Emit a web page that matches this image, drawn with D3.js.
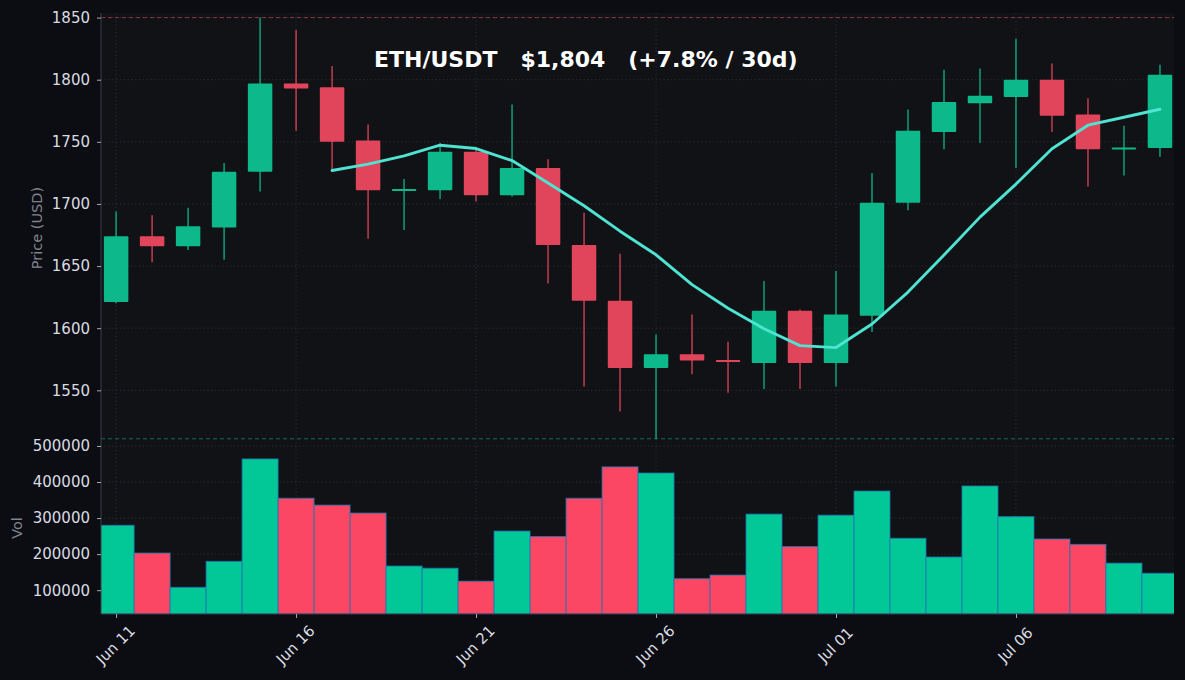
<!DOCTYPE html>
<html>
<head>
<meta charset="utf-8">
<script src="https://cdn.jsdelivr.net/npm/d3@7"></script>
<style>
  html, body { margin: 0; padding: 0; background: #0b0d13; }
  svg { display: block; font-family: "DejaVu Sans", sans-serif; }
</style>
</head>
<body>
<div id="chart"></div>
<script>
// daily candles, Jun 11 - Jul 10
var dates = ["2023-06-11","2023-06-12","2023-06-13","2023-06-14","2023-06-15","2023-06-16","2023-06-17","2023-06-18","2023-06-19","2023-06-20",
             "2023-06-21","2023-06-22","2023-06-23","2023-06-24","2023-06-25","2023-06-26","2023-06-27","2023-06-28","2023-06-29","2023-06-30",
             "2023-07-01","2023-07-02","2023-07-03","2023-07-04","2023-07-05","2023-07-06","2023-07-07","2023-07-08","2023-07-09","2023-07-10"];
var opens  = [1621,1674,1666,1681,1726,1797,1794,1751,1711,1711, 1742,1707,1729,1667,1622,1568,1579,1574.5,1572,1614, 1572,1610,1701,1758,1781,1786,1800,1772,1745,1745];
var highs  = [1694,1691,1697,1733,1850,1840,1811,1764,1720,1749, 1745,1780,1736,1693,1660,1595,1611,1589,1638,1615, 1646,1725,1776,1808,1809,1833,1813,1785,1763,1812];
var lows   = [1620,1653,1663,1655,1710,1759,1727,1672,1679,1704, 1702,1706,1636,1553,1533,1511,1563,1548,1551,1551, 1553,1597,1695,1744,1749,1729,1758,1714,1723,1738];
var closes = [1674,1666,1682,1726,1797,1793,1750,1711,1712,1742, 1707,1729,1667,1622,1568,1579,1574,1573,1614,1572, 1611,1701,1759,1782,1787,1800,1771,1744,1745.5,1804];
var volumes = [280000,203000,108000,180000,464000,355000,336000,314000,167000,161000,
               125000,264000,249000,355000,442000,425000,132000,142000,311000,221000,
               308000,375000,244000,192000,389000,304000,242000,227000,175000,147000];
// 7 day moving average (starts on the 7th candle)
var ma7 = [null,null,null,null,null,null,1726.9,1732.1,1738.7,1747.3,
           1744.6,1734.9,1716.9,1698.6,1678.1,1659.1,1635.1,1616,1599.6,1586,
           1584.4,1603.4,1629.1,1658.9,1689.4,1716,1744.4,1763.4,1769.8,1776.2];

var priceTicks = [1550,1600,1650,1700,1750,1800,1850];
var volTicks = [100000,200000,300000,400000,500000];
var dateTicks = ["2023-06-11","2023-06-16","2023-06-21","2023-06-26","2023-07-01","2023-07-06"];
var titleText = "ETH/USDT   $1,804   (+7.8% / 30d)";

var W = 1185, H = 680;
var plotLeft = 101, plotRight = 1174, plotTop = 13, split = 442, plotBottom = 614;
var DAY = 864e5;

var up = "#0db98a", down = "#e0455b";
var volUp = "#02c797", volDown = "#fb4764";

var parse = d3.utcParse("%Y-%m-%d");
var days = dates.map(parse);
var candles = days.map(function(d, i) {
  return { date: d, o: opens[i], h: highs[i], l: lows[i], c: closes[i], v: volumes[i], ma: ma7[i] };
});

var x = d3.scaleUtc()
  .domain([new Date(+days[0] - 0.42 * DAY), new Date(+days[days.length - 1] + 0.39 * DAY)])
  .range([plotLeft, plotRight]);
var y = d3.scaleLinear().domain([1508.4, 1853.7]).range([split, plotTop]);
var yv = d3.scaleLinear().domain([34000, 511000]).range([plotBottom, split]);

var dayW = x(days[1]) - x(days[0]);
var bodyW = dayW * 0.68;

var svg = d3.select("#chart").append("svg")
  .attr("width", W).attr("height", H);

svg.append("rect").attr("width", W).attr("height", H).attr("fill", "#0b0d13");
svg.append("rect")
  .attr("x", plotLeft).attr("y", plotTop)
  .attr("width", plotRight - plotLeft).attr("height", plotBottom - plotTop)
  .attr("fill", "#111216");

svg.append("clipPath").attr("id", "plotClip")
  .append("rect").attr("x", plotLeft).attr("y", plotTop)
  .attr("width", plotRight - plotLeft).attr("height", plotBottom - plotTop);

var grid = svg.append("g")
  .attr("stroke", "#2e3139")
  .attr("stroke-width", 0.9)
  .attr("stroke-dasharray", "1.2,2.6");

grid.selectAll(".vg").data(dateTicks.map(parse)).enter().append("line")
  .attr("x1", function(d) { return x(d); }).attr("x2", function(d) { return x(d); })
  .attr("y1", plotTop).attr("y2", plotBottom);
grid.selectAll(".pg").data(priceTicks).enter().append("line")
  .attr("x1", plotLeft).attr("x2", plotRight)
  .attr("y1", function(d) { return y(d); }).attr("y2", function(d) { return y(d); });
grid.selectAll(".volg").data(volTicks).enter().append("line")
  .attr("x1", plotLeft).attr("x2", plotRight)
  .attr("y1", function(d) { return yv(d); }).attr("y2", function(d) { return yv(d); });

// max high / min low reference lines
svg.append("line")
  .attr("x1", plotLeft).attr("x2", plotRight)
  .attr("y1", y(d3.max(highs))).attr("y2", y(d3.max(highs)))
  .attr("stroke", down).attr("stroke-opacity", 0.6)
  .attr("stroke-width", 1).attr("stroke-dasharray", "4,3");
svg.append("line")
  .attr("x1", plotLeft).attr("x2", plotRight)
  .attr("y1", y(d3.min(lows))).attr("y2", y(d3.min(lows)))
  .attr("stroke", up).attr("stroke-opacity", 0.55)
  .attr("stroke-width", 1).attr("stroke-dasharray", "4,3");

// volume bars
svg.append("g").attr("clip-path", "url(#plotClip)")
  .selectAll("rect").data(candles).enter().append("rect")
  .attr("x", function(d) { return x(d.date) - dayW / 2; })
  .attr("width", dayW)
  .attr("y", function(d) { return yv(d.v); })
  .attr("height", function(d) { return plotBottom - yv(d.v); })
  .attr("fill", function(d) { return d.c >= d.o ? volUp : volDown; })
  .attr("stroke", "#1f77b4")
  .attr("stroke-opacity", 0.8)
  .attr("stroke-width", 1);

// candles
var cg = svg.append("g");
cg.selectAll(".wick").data(candles).enter().append("line")
  .attr("x1", function(d) { return x(d.date); }).attr("x2", function(d) { return x(d.date); })
  .attr("y1", function(d) { return y(d.h); }).attr("y2", function(d) { return y(d.l); })
  .attr("stroke", function(d) { return d.c >= d.o ? up : down; })
  .attr("stroke-width", 1.5)
  .attr("stroke-opacity", 0.85);
cg.selectAll(".body").data(candles).enter().append("rect")
  .attr("x", function(d) { return x(d.date) - bodyW / 2; })
  .attr("width", bodyW)
  .attr("y", function(d) { return y(Math.max(d.o, d.c)); })
  .attr("height", function(d) { return Math.max(2, Math.abs(y(d.o) - y(d.c))); })
  .attr("rx", 1)
  .attr("fill", function(d) { return d.c >= d.o ? up : down; });

// moving average
var line = d3.line()
  .defined(function(d) { return d.ma != null; })
  .x(function(d) { return x(d.date); })
  .y(function(d) { return y(d.ma); });
svg.append("path").datum(candles)
  .attr("d", line)
  .attr("fill", "none")
  .attr("stroke", "#4fe3d2")
  .attr("stroke-width", 2.9)
  .attr("stroke-linejoin", "round")
  .attr("stroke-linecap", "round");

// spines
svg.append("line").attr("x1", plotLeft).attr("x2", plotLeft).attr("y1", plotTop).attr("y2", plotBottom)
  .attr("stroke", "#3a3e48");
svg.append("line").attr("x1", plotLeft).attr("x2", plotRight).attr("y1", plotBottom).attr("y2", plotBottom)
  .attr("stroke", "#3a3e48");

// axes
function styleAxis(g) {
  g.select(".domain").remove();
  g.selectAll(".tick line").attr("stroke", "#a8acb4");
  g.selectAll(".tick text").attr("fill", "#d9dbe0").style("font-size", "15px")
    .style("font-family", "DejaVu Sans");
}

svg.append("g")
  .attr("transform", "translate(" + plotLeft + ",0)")
  .call(d3.axisLeft(y).tickValues(priceTicks).tickSize(4).tickPadding(7).tickFormat(d3.format("d")))
  .call(styleAxis);

svg.append("g")
  .attr("transform", "translate(" + plotLeft + ",0)")
  .call(d3.axisLeft(yv).tickValues(volTicks).tickSize(4).tickPadding(7).tickFormat(d3.format("d")))
  .call(styleAxis);

var xa = svg.append("g")
  .attr("transform", "translate(0," + plotBottom + ")")
  .call(d3.axisBottom(x).tickValues(dateTicks.map(parse)).tickSize(4).tickFormat(d3.utcFormat("%b %d")))
  .call(styleAxis);
xa.selectAll(".tick text")
  .attr("y", null).attr("dy", null)
  .attr("text-anchor", "middle")
  .attr("dominant-baseline", "central")
  .attr("transform", "translate(-1,31) rotate(-45)");

// axis labels
svg.append("text")
  .attr("transform", "translate(42,228) rotate(-90)")
  .attr("text-anchor", "middle")
  .attr("fill", "#80848d")
  .style("font-size", "14.5px")
  .text("Price (USD)");
svg.append("text")
  .attr("transform", "translate(22," + ((split + plotBottom) / 2) + ") rotate(-90)")
  .attr("text-anchor", "middle")
  .attr("fill", "#80848d")
  .style("font-size", "14.5px")
  .text("Vol");

// title
svg.append("text")
  .attr("x", 374).attr("y", 67)
  .attr("fill", "#ffffff")
  .style("font-size", "22px")
  .style("font-weight", "bold")
  .style("white-space", "pre")
  .text(titleText);
</script>
</body>
</html>
